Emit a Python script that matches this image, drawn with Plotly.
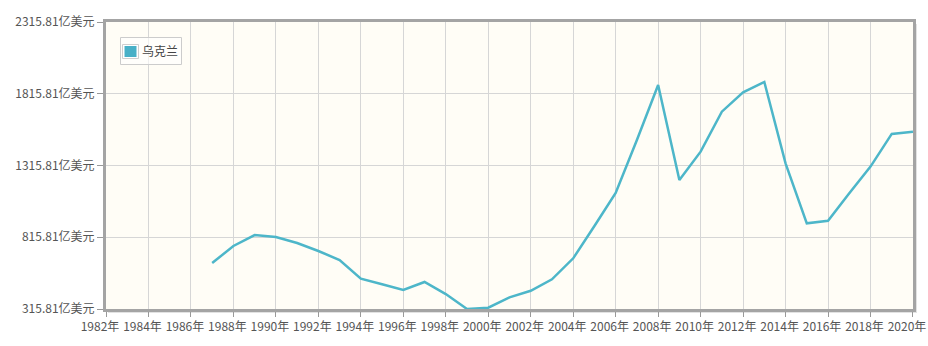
import plotly.graph_objects as go

# Ukraine GDP, 100 million USD (亿美元)
years = list(range(1987, 2021))
gdp = [636, 755, 831, 818, 776, 720, 657, 527, 488, 448, 504, 420,
       315.81, 325, 397, 443, 523, 669, 894, 1124, 1494, 1877, 1215,
       1412, 1691, 1826, 1898, 1331, 913, 931, 1122, 1308, 1536, 1551]
series_name = "乌克兰"

tick_years = list(range(1982, 2021, 2))
tick_year_text = [f"{y}年" for y in tick_years]
y_ticks = [315.81, 815.81, 1315.81, 1815.81, 2315.81]
y_tick_text = [f"{v:.2f}亿美元" for v in y_ticks]

LINE = "#4db6c9"
FONT = "Noto Sans CJK SC"

W, H = 928, 346
L, R, T, B = 106, 913, 22, 309          # plot area in pixels
pw, ph = R - L, B - T


def px(x):
    return (x - L) / pw


def py(y):
    return (B - y) / ph


fig = go.Figure()
fig.add_trace(go.Scatter(
    x=years, y=gdp, mode="lines", name=series_name,
    line=dict(color=LINE, width=2.5), showlegend=False,
    hovertemplate="%{x}年: %{y}亿美元<extra></extra>",
))

shapes = [
    # soft shadow behind the frame
    dict(type="rect", xref="paper", yref="paper", layer="below",
         x0=px(L + 2), x1=px(R + 4), y0=py(B + 4), y1=py(T + 2),
         fillcolor="#e2e2e2", line=dict(width=0)),
    # plot background
    dict(type="rect", xref="paper", yref="paper", layer="below",
         x0=0, x1=1, y0=0, y1=1, fillcolor="#fffdf6", line=dict(width=0)),
    # legend box
    dict(type="rect", xref="paper", yref="paper", layer="above",
         x0=px(120.5), x1=px(181.5), y0=py(64.5), y1=py(37.5),
         fillcolor="rgba(255,255,255,0.6)", line=dict(color="#cccccc", width=1)),
    # legend swatch
    dict(type="rect", xref="paper", yref="paper", layer="above",
         x0=px(122.5), x1=px(138.5), y0=py(58.5), y1=py(44.5),
         fillcolor="#ffffff", line=dict(color="#cfcfcf", width=1)),
    dict(type="rect", xref="paper", yref="paper", layer="above",
         x0=px(124.5), x1=px(136.5), y0=py(57), y1=py(46),
         fillcolor="#48b0c7", line=dict(width=0)),
]

axis_font = dict(family=FONT, size=12, color="#555555")

annotations = [
    dict(text=series_name, xref="paper", yref="paper",
         x=px(139.5), y=py(51), xanchor="left", yanchor="middle",
         showarrow=False, font=dict(family=FONT, size=12, color="#444444")),
]

fig.update_layout(
    width=W, height=H,
    margin=dict(l=L, r=W - R, t=T, b=H - B, pad=0, autoexpand=False),
    paper_bgcolor="#ffffff",
    plot_bgcolor="rgba(0,0,0,0)",
    shapes=shapes,
    annotations=annotations,
    showlegend=False,
    xaxis=dict(
        range=[1982, 2020.001], tickmode="array",
        tickvals=tick_years, ticktext=tick_year_text,
        tickfont=axis_font, ticks="outside", ticklen=5, tickwidth=1,
        tickcolor="#999999", automargin=False,
        ticklabelshift=-6, ticklabeloverflow="allow",
        showgrid=True, gridcolor="#d6d6d6", gridwidth=1,
        showline=True, mirror=True, linecolor="#a4a4a4", linewidth=3,
        zeroline=False, tickangle=0,
    ),
    yaxis=dict(
        range=[315.81, 2315.81], tickmode="array",
        tickvals=y_ticks, ticktext=y_tick_text,
        tickfont=axis_font, ticks="outside", ticklen=6, tickwidth=1,
        tickcolor="#999999", automargin=False,
        showgrid=True, gridcolor="#d6d6d6", gridwidth=1,
        showline=True, mirror=True, linecolor="#a4a4a4", linewidth=3,
        zeroline=False,
    ),
)

fig.write_html("out.html")
